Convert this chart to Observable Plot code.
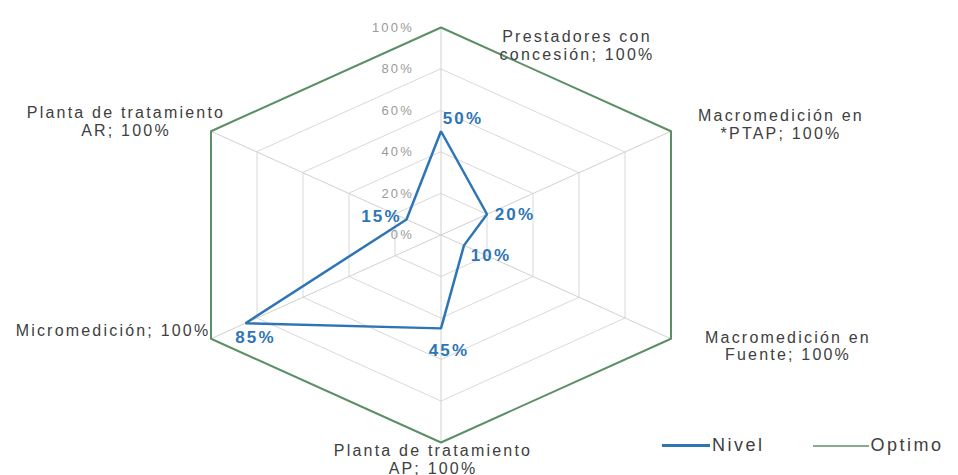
<!DOCTYPE html>
<html>
<head>
<meta charset="utf-8">
<script src="https://cdn.jsdelivr.net/npm/d3@7"></script>
<script src="https://cdn.jsdelivr.net/npm/@observablehq/plot@0.6"></script>
<style>
  body { margin: 0; background: #fff; }
  #chart { position: relative; width: 958px; height: 475px; font-family: Arial, "Liberation Sans", sans-serif; }
  #chart svg text { letter-spacing: 2.2px; }
  #chart svg g[aria-label="tick-labels"] text { letter-spacing: 2.6px; }
  #chart svg g[aria-label="value-label"] text { letter-spacing: 4.5px; }
  #legend { position: absolute; left: 662px; top: 435px; display: flex; align-items: center;
            font-size: 18px; color: #404040; letter-spacing: 2.5px; font-family: Arial, "Liberation Sans", sans-serif; }
  #legend .sw { display: inline-block; height: 0; margin-right: 2px; }
</style>
</head>
<body>
<div id="chart"></div>
<script>
// ---- data ----
const categories = [
  "Prestadores con\nconcesión",
  "Macromedición en\n*PTAP",
  "Macromedición en\nFuente",
  "Planta de tratamiento\nAP",
  "Micromedición",
  "Planta de tratamiento\nAR"
];
const nivel  = [0.50, 0.20, 0.10, 0.45, 0.85, 0.15];
const optimo = [1.00, 1.00, 1.00, 1.00, 1.00, 1.00];
const gridLevels = [0.2, 0.4, 0.6, 0.8];
const radialTicks = [0, 0.2, 0.4, 0.6, 0.8, 1.0];
const tickLabels = ["0%", "20%", "40%", "60%", "80%", "100%"];
const seriesNames = ["Nivel", "Optimo"];

// ---- layout (pixel nudges for labels) ----
const valueNudge = [[22, -13], [28, 0], [27, 10], [8, 22], [10, 14], [-25, -3]];
const catNudge = [[136, 18], [110, -7], [117, 7], [-8, 17], [-98, -8], [-85, -10]];

const colors = { Nivel: "#2e75b6", Optimo: "#5b8f66" };
const n = categories.length;
const ang = i => (2 * Math.PI * i) / n;
const px = (v, i) => v * Math.sin(ang(i));
const py = (v, i) => v * Math.cos(ang(i));
const pct = v => `${Math.round(v * 100)}%`;
const S = Math.sin(Math.PI / 3);

const nivelPts = nivel.map((v, i) => ({ i, v, x: px(v, i), y: py(v, i) }));
const optimoPts = optimo.map((v, i) => ({ i, v, x: px(v, i), y: py(v, i), label: `${categories[i]}; ${pct(v)}` }));
const gridPts = gridLevels.flatMap(l => categories.map((c, i) => ({ l, x: px(l, i), y: py(l, i) })));
const spokes = categories.map((c, i) => ({ x: px(1, i), y: py(1, i) }));

const font = "Arial, 'Liberation Sans', sans-serif";

const marks = [
  Plot.line(gridPts, { x: "x", y: "y", z: "l", curve: "linear-closed", stroke: "#d9d9d9", strokeWidth: 1 }),
  Plot.link(spokes, { x1: () => 0, y1: () => 0, x2: "x", y2: "y", stroke: "#d0d0d0", strokeWidth: 1 }),
  Plot.line(optimoPts, { x: "x", y: "y", curve: "linear-closed", stroke: colors.Optimo, strokeWidth: 2 }),
  Plot.line(nivelPts, { x: "x", y: "y", curve: "linear-closed", stroke: colors.Nivel, strokeWidth: 2.5, strokeLinejoin: "miter" }),
  Plot.text(radialTicks, { x: () => 0, y: d => d, text: (d, k) => tickLabels[k], textAnchor: "end", dx: -27,
    fill: "#9a9a9a", fontSize: 13, fontFamily: font, ariaLabel: "tick-labels" })
];

nivelPts.forEach((p, k) => {
  marks.push(Plot.text([p], { x: "x", y: "y", text: d => pct(d.v), dx: valueNudge[k][0], dy: valueNudge[k][1],
    fill: colors.Nivel, fontWeight: "bold", fontSize: 17, fontFamily: font, ariaLabel: "value-label" }));
});
optimoPts.forEach((p, k) => {
  marks.push(Plot.text([p], { x: "x", y: "y", text: "label", dx: catNudge[k][0], dy: catNudge[k][1],
    fill: "#404040", fontSize: 16, lineHeight: 1.1, fontFamily: font, ariaLabel: "category-label" }));
});

const chart = Plot.plot({
  width: 958,
  height: 475,
  marginLeft: 210.5,
  marginRight: 287.5,
  marginTop: 27,
  marginBottom: 33,
  x: { domain: [-S, S], axis: null },
  y: { domain: [-1, 1], axis: null },
  style: { fontFamily: font, background: "white", overflow: "visible" },
  marks
});

const root = document.getElementById("chart");
root.appendChild(chart);

// legend (HTML, overlaid at bottom right)
const legend = document.createElement("div");
legend.id = "legend";
seriesNames.forEach((name, k) => {
  const item = document.createElement("span");
  item.style.display = "inline-flex";
  item.style.alignItems = "center";
  item.style.marginRight = k === 0 ? "48px" : "0";
  const sw = document.createElement("span");
  sw.className = "sw";
  sw.style.width = k === 0 ? "48px" : "56px";
  sw.style.borderTop = k === 0 ? `3px solid ${colors.Nivel}` : `2px solid #86ab8f`;
  const lab = document.createElement("span");
  lab.textContent = name;
  item.appendChild(sw);
  item.appendChild(lab);
  legend.appendChild(item);
});
root.appendChild(legend);
</script>
</body>
</html>
